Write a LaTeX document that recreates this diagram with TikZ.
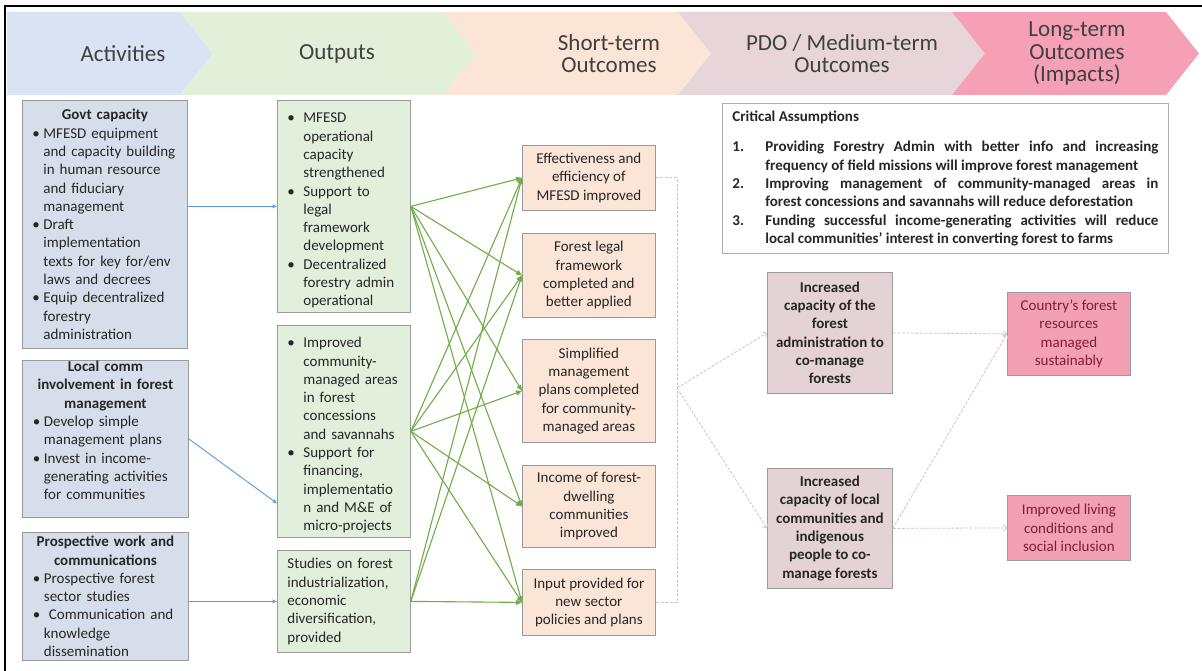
\documentclass[tikz,border=0pt]{standalone}
\usepackage{fontspec}
\setmainfont{Carlito}
\usetikzlibrary{arrows.meta,calc}
\definecolor{hblue}{HTML}{DAE3F3}
\definecolor{hgreen}{HTML}{E2F0D9}
\definecolor{hpeach}{HTML}{FBE5D6}
\definecolor{hmauve}{HTML}{E7D5DA}
\definecolor{hpink}{HTML}{F5A0B5}
\definecolor{bblue}{HTML}{D7DEEB}
\definecolor{bgreen}{HTML}{E2EFDA}
\definecolor{bpeach}{HTML}{FBE5D6}
\definecolor{bmauve}{HTML}{E4D2D6}
\definecolor{bpink}{HTML}{F4A0B4}
\definecolor{bord}{HTML}{9A9A9A}
\definecolor{txt}{HTML}{262626}
\definecolor{htxt}{HTML}{404040}
\definecolor{ltred}{HTML}{7F1F33}
\definecolor{garrow}{HTML}{70AD47}
\definecolor{barrow}{HTML}{5B9BD5}
\definecolor{parrow}{HTML}{D6C0C6}
\newcommand{\bitemA}[1]{\par\hangindent=11pt\hangafter=1\noindent\makebox[11pt][l]{•}#1\par}
\newcommand{\bitemO}[1]{\par\hangindent=16pt\hangafter=1\noindent\makebox[16pt][l]{•}#1\par}
\newcommand{\caitem}[2]{\par\hangindent=33pt\hangafter=1\noindent\makebox[33pt][l]{#1}#2\par}
\tikzset{
  box/.style={draw=bord, line width=0.8pt, anchor=north west, inner sep=0pt,
    font=\fontsize{15}{18.3}\selectfont, text=txt},
  abox/.style={box, fill=bblue, align=left, text width=145pt},
  obox/.style={box, fill=bgreen, align=left, text width=113pt},
  sbox/.style={box, fill=bpeach, align=center, minimum width=133pt},
  pbox/.style={box, fill=bmauve, align=center, minimum width=125pt, font=\fontsize{15}{18.3}\selectfont\bfseries},
  lbox/.style={box, fill=bpink, align=center, minimum width=123pt, text=ltred},
  cabox/.style={box, draw=bord!80, fill=white, align=justify, text width=426pt, minimum width=446pt, minimum height=150pt},
  htext/.style={font=\fontsize{23}{22.5}\selectfont, text=htxt, align=center},
  garr/.style={draw=garrow, line width=1.1pt, -{Triangle[length=6pt,width=5pt]}},
  barr/.style={draw=barrow, line width=0.9pt, -{Stealth[length=5pt,width=4pt]}},
  parr/.style={draw=parrow, line width=0.8pt, dash pattern=on 3pt off 1.5pt, -{Straight Barb[length=3pt,width=6pt]}},
  pline/.style={draw=parrow, line width=0.8pt, dash pattern=on 3pt off 1.5pt},
}
\begin{document}
\begin{tikzpicture}[x=1pt,y=-1pt]
\useasboundingbox (0,0) rectangle (1202,671);
\fill[white] (0,0) rectangle (1202,671);
% header chevrons
\fill[hblue] (7,12) -- (180,12) -- (213,53.5) -- (180,95) -- (7,95) -- cycle;
\fill[hgreen] (180,12) -- (443,12) -- (476,53.5) -- (443,95) -- (180,95) -- (213,53.5) -- cycle;
\fill[hpeach] (443,12) -- (678,12) -- (711,53.5) -- (678,95) -- (443,95) -- (476,53.5) -- cycle;
\fill[hmauve] (678,12) -- (952,12) -- (985,53.5) -- (952,95) -- (678,95) -- (711,53.5) -- cycle;
\fill[hpink] (952,12) -- (1166,12) -- (1199,53.5) -- (1166,95) -- (952,95) -- (985,53.5) -- cycle;
\node[htext] (h1) at (123,53.5) {Activities};
\node[htext] (h2) at (337,53.5) {Outputs};
\node[htext] (h3) at (609,53.5) {Short-term\\Outcomes};
\node[htext] (h4) at (842,53.5) {PDO / Medium-term\\Outcomes};
\node[htext] (h5) at (1077,53.5) {Long-term\\Outcomes\\(Impacts)};
% frame
\draw[black, line width=2.5pt] (5,671) -- (5,6) -- (1202,6);
% activities
\node[abox, minimum width=165pt, minimum height=248pt] (A1) at (22,100) {%
{\centering\bfseries Govt capacity\par}
\bitemA{MFESD equipment\newline and capacity building\newline in human resource\newline and fiduciary\newline management}
\bitemA{Draft\newline implementation\newline texts for key for/env\newline laws and decrees}
\bitemA{Equip decentralized\newline forestry\newline administration}};
\node[abox, minimum width=166pt, minimum height=157pt] (A2) at (22,360) {%
{\centering\bfseries Local comm\\involvement in forest\\management\par}
\bitemA{Develop simple\newline management plans}
\bitemA{Invest in income-\newline generating activities\newline for communities}\vspace*{17pt}};
\node[abox, minimum width=166pt, minimum height=128pt] (A3) at (22,532) {%
{\centering\bfseries Prospective work and\\communications\par}
\bitemA{Prospective forest\newline sector studies}
\bitemA{\ Communication and\newline knowledge\newline dissemination}};
% outputs
\node[obox, minimum width=133pt, minimum height=212pt] (O1) at (277,100) {%
\bitemO{MFESD\newline operational\newline capacity\newline strengthened}
\bitemO{Support to\newline legal\newline framework\newline development}
\bitemO{Decentralized\newline forestry admin\newline operational}};
\node[obox, minimum width=133pt, minimum height=212pt] (O2) at (277,325) {%
\bitemO{Improved\newline community-\newline managed areas\newline in forest\newline concessions\newline and savannahs}
\bitemO{Support for\newline financing,\newline implementatio\newline n and M\&E of\newline micro-projects}};
\node[obox, minimum width=133pt, minimum height=102pt] (O3) at (277,550) {%
Studies on forest\\industrialization,\\economic\\diversification,\\provided};
% short-term
\node[sbox, minimum height=65pt] (S1) at (522,145) {Effectiveness and\\efficiency of\\MFESD improved};
\node[sbox, minimum height=84pt] (S2) at (522,233) {Forest legal\\framework\\completed and\\better applied};
\node[sbox, minimum height=103pt] (S3) at (522,339) {Simplified\\management\\plans completed\\for community-\\managed areas};
\node[sbox, minimum height=82pt] (S4) at (522,465) {Income of forest-\\dwelling\\communities\\improved};
\node[sbox, minimum height=66pt] (S5) at (522,569) {Input provided for\\new sector\\policies and plans};
% critical assumptions
\node[cabox] (CA) at (722,103) {%
{\bfseries Critical Assumptions\par}\vspace{12pt}
\bfseries
\caitem{1.}{Providing Forestry Admin with better info and increasing\linebreak frequency of field missions will improve forest management}
\caitem{2.}{Improving management of community-managed areas in\linebreak forest concessions and savannahs will reduce deforestation}
\caitem{3.}{Funding successful income-generating activities will reduce\linebreak local communities’ interest in converting forest to farms}};
% PDO
\node[pbox, minimum height=121pt] (P1) at (767,272) {Increased\\capacity of the\\forest\\administration to\\co-manage\\forests};
\node[pbox, minimum height=120pt] (P2) at (767,468) {Increased\\capacity of local\\communities and\\indigenous\\people to co-\\manage forests};
% long-term
\node[lbox, minimum height=83pt] (L1) at (1007,292) {Country’s forest\\resources\\managed\\sustainably};
\node[lbox, minimum height=65pt] (L2) at (1007,495) {Improved living\\conditions and\\social inclusion};
% blue arrows
\draw[barr] (A1.east |- O1.west) -- (O1.west);
\draw[barr] (A2.east) -- ([yshift=-72pt]O2.west);
\draw[barr] (A3.east |- O3.west) -- (O3.west);
% green arrows
\foreach \t in {S1,S2,S3,S4,S5} {\draw[garr] (O1.east) -- (\t.west);}
\foreach \t in {S1,S2,S3,S4,S5} {\draw[garr] (O2.east) -- (\t.west);}
\foreach \t in {S1,S2,S5} {\draw[garr] (O3.east) -- (\t.west);}
% bracket and PDO connectors
\coordinate (brk) at (677,388);
\draw[pline] (S1.east) -- (brk |- S1.east) -- (brk |- S5.east) -- (S5.east);
\draw[parr] (brk) -- (P1.west);
\draw[parr] (brk) -- (P2.west);
\draw[parr] (P1.east) -- (L1.west);
\draw[parr] (P2.east) -- (L1.west);
\draw[parr] (P2.east) -- (L2.west);
\end{tikzpicture}
\end{document}
